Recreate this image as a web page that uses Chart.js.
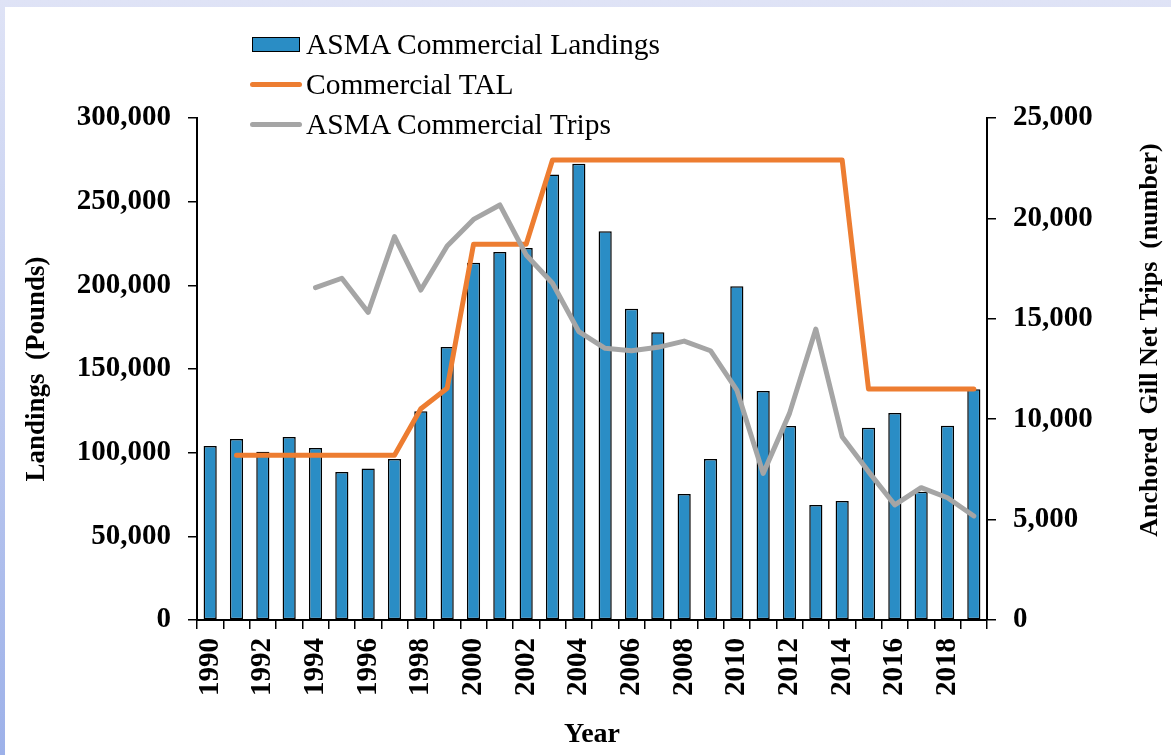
<!DOCTYPE html>
<html>
<head>
<meta charset="utf-8">
<script src="https://cdn.jsdelivr.net/npm/chart.js@4.4.0/dist/chart.umd.min.js"></script>
<style>
  html, body {
    margin: 0;
    padding: 0;
    width: 1171px;
    height: 755px;
    overflow: hidden;
    background: linear-gradient(to bottom, #dfe3f6, #9db1e9);
  }
  .ChartBox {
    position: absolute;
    left: 5px;
    top: 7px;
    width: 1166px;
    height: 748px;
    background: #fff;
  }
  #LandingsChart {
    position: absolute;
    left: 0;
    top: 0;
  }
  .Legend {
    position: absolute;
    left: 245px;
    top: 17px;
    font-family: "Liberation Serif", "Times New Roman", serif;
    font-size: 29.5px;
    color: #000;
  }
  .Legend-item {
    display: flex;
    align-items: center;
    height: 40px;
    white-space: nowrap;
  }
  .Legend-swatch {
    width: 56px;
    display: flex;
    align-items: center;
    justify-content: flex-start;
  }
  .Legend-bar {
    width: 46px;
    height: 13px;
    margin-left: 2px;
    border: 1.5px solid #000;
  }
  .Legend-line {
    width: 52px;
    height: 5px;
    border-radius: 3px;
  }
</style>
</head>
<body>
<div class="ChartBox">
  <canvas id="LandingsChart" width="1166" height="748"></canvas>
  <div class="Legend" id="Legend"></div>
</div>

<script>
const years = [
  "1990", "1991", "1992", "1993", "1994", "1995", "1996", "1997", "1998", "1999",
  "2000", "2001", "2002", "2003", "2004", "2005", "2006", "2007", "2008", "2009",
  "2010", "2011", "2012", "2013", "2014", "2015", "2016", "2017", "2018", "2019",
];

// pounds
const landings = [
  104000, 108200, 100600, 109400, 102800, 88400, 90600, 96200, 124700, 163100,
  213500, 219900, 222300, 266300, 272700, 232300, 186000, 171900, 75300, 96200,
  199400, 136900, 115900, 68700, 71100, 114900, 123700, 76700, 116100, 137900,
];

// pounds, no TAL in 1990
const commercialTal = [
  null, 98400, 98400, 98400, 98400, 98400, 98400, 98400, 126300, 138500,
  224500, 224500, 224500, 274900, 274900, 274900, 274900, 274900, 274900, 274900,
  274900, 274900, 274900, 274900, 274900, 138000, 138000, 138000, 138000, 138000,
];

// number of trips, series starts in 1994
const trips = [
  null, null, null, null, 16550, 17020, 15320, 19090, 16430, 18630,
  19950, 20670, 18180, 16770, 14360, 13530, 13410, 13580, 13890, 13410,
  11450, 7300, 10290, 14490, 9130, 7390, 5730, 6590, 6090, 5180,
];

const leftTicks = [0, 50000, 100000, 150000, 200000, 250000, 300000];
const rightTicks = [0, 5000, 10000, 15000, 20000, 25000];

const BLUE = "#2a8dc5";
const ORANGE = "#ed7d31";
const GREY = "#a5a5a5";
const FONT = "'Liberation Serif', 'Times New Roman', serif";

const tickFont = { family: FONT, size: 29, weight: "bold" };
const titleFont = { family: FONT, size: 27, weight: "bold" };

function formatNumber(value) {
  return Number(value).toLocaleString("en-US");
}

// Excel puts the right axis title reading upwards, Chart.js would rotate it the other way
const rightTitlePlugin = {
  id: "rightTitle",
  afterDraw(chart) {
    const { ctx, chartArea } = chart;
    const scale = chart.scales.trips;
    ctx.save();
    ctx.translate(scale.right - 21, (chartArea.top + chartArea.bottom) / 2 - 29);
    ctx.rotate(-Math.PI / 2);
    ctx.font = `bold 26px ${FONT}`;
    ctx.fillStyle = "#000";
    ctx.textAlign = "center";
    ctx.textBaseline = "middle";
    ctx.fillText("Anchored  Gill Net Trips  (number)", 0, 0);
    ctx.restore();
  },
};

function axisLook(tickLength) {
  return {
    grid: {
      display: true,
      drawOnChartArea: false,
      drawTicks: true,
      tickLength,
      color: "#000",
      lineWidth: 1.5,
    },
    border: {
      display: true,
      color: "#000",
      width: 2,
    },
  };
}

function renderLegend(chart) {
  const holder = document.querySelector("#Legend");
  holder.innerHTML = "";

  chart.data.datasets.forEach((ds) => {
    const item = document.createElement("div");
    item.className = "Legend-item";

    const swatch = document.createElement("span");
    swatch.className = "Legend-swatch";

    const mark = document.createElement("span");
    if (ds.type === "bar") {
      mark.className = "Legend-bar";
      mark.style.background = ds.backgroundColor;
    } else {
      mark.className = "Legend-line";
      mark.style.background = ds.borderColor;
    }
    swatch.appendChild(mark);

    const label = document.createElement("span");
    label.textContent = ds.label;

    item.appendChild(swatch);
    item.appendChild(label);
    holder.appendChild(item);
  });
}

const chart = new Chart(document.querySelector("#LandingsChart"), {
  data: {
    labels: years,
    datasets: [
      {
        type: "bar",
        label: "ASMA Commercial Landings",
        data: landings,
        yAxisID: "landings",
        backgroundColor: BLUE,
        borderColor: "#000",
        borderWidth: 1.5,
        borderSkipped: false,
        categoryPercentage: 0.5,
        barPercentage: 1,
        order: 3,
      },
      {
        type: "line",
        label: "Commercial TAL",
        data: commercialTal,
        yAxisID: "landings",
        borderColor: ORANGE,
        backgroundColor: ORANGE,
        borderWidth: 5,
        borderCapStyle: "round",
        borderJoinStyle: "round",
        pointRadius: 0,
        tension: 0,
        order: 2,
      },
      {
        type: "line",
        label: "ASMA Commercial Trips",
        data: trips,
        yAxisID: "trips",
        borderColor: GREY,
        backgroundColor: GREY,
        borderWidth: 5,
        borderCapStyle: "round",
        borderJoinStyle: "round",
        pointRadius: 0,
        tension: 0,
        order: 1,
      },
    ],
  },
  options: {
    responsive: false,
    animation: false,
    layout: {
      padding: { top: 111, left: 0, right: 0, bottom: 0 },
    },
    plugins: {
      legend: { display: false },
      tooltip: { enabled: false },
    },
    scales: {
      x: {
        type: "category",
        offset: true,
        ...axisLook(9),
        grid: { ...axisLook(9).grid, offset: true },
        ticks: {
          autoSkip: false,
          maxRotation: 90,
          minRotation: 90,
          padding: 9,
          color: "#000",
          font: tickFont,
          callback(value, index) {
            return index % 2 === 0 ? years[index] : "";
          },
        },
        title: {
          display: true,
          text: "Year",
          color: "#000",
          font: { family: FONT, size: 28, weight: "bold" },
          padding: { top: 0, bottom: 3 },
        },
        afterFit(scale) {
          scale.height = 135;
        },
      },
      landings: {
        type: "linear",
        position: "left",
        min: leftTicks[0],
        max: leftTicks[leftTicks.length - 1],
        ...axisLook(9),
        ticks: {
          stepSize: leftTicks[1] - leftTicks[0],
          padding: 17,
          color: "#000",
          font: tickFont,
          callback: formatNumber,
        },
        title: {
          display: true,
          text: "Landings  (Pounds)",
          color: "#000",
          font: titleFont,
          padding: { top: 16, bottom: 0 },
        },
        afterFit(scale) {
          scale.width = 192;
        },
      },
      trips: {
        type: "linear",
        position: "right",
        min: rightTicks[0],
        max: rightTicks[rightTicks.length - 1],
        ...axisLook(9),
        ticks: {
          stepSize: rightTicks[1] - rightTicks[0],
          padding: 17,
          color: "#000",
          font: tickFont,
          callback: formatNumber,
        },
        afterFit(scale) {
          scale.width = 184;
        },
      },
    },
  },
  plugins: [rightTitlePlugin],
});

renderLegend(chart);
</script>
</body>
</html>
